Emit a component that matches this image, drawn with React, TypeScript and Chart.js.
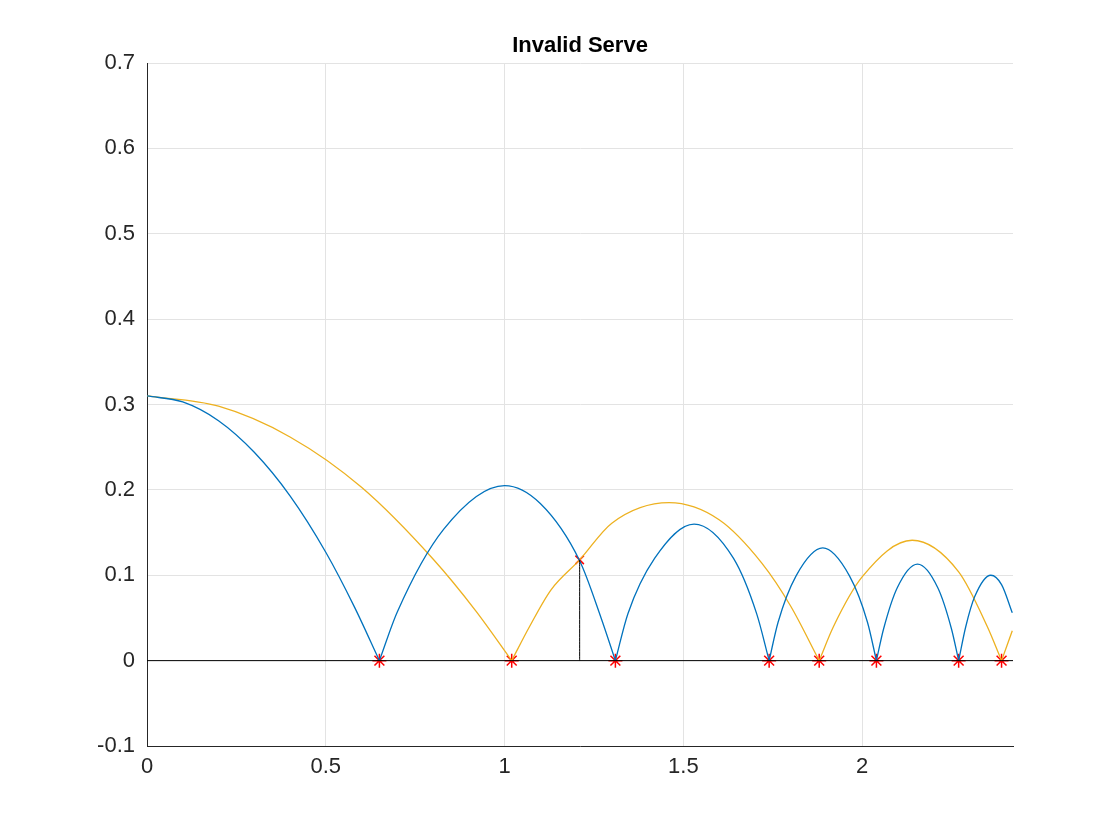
import { useEffect, useRef } from 'react';
import Chart from 'chart.js/auto';

// blue trajectory, one arc per bounce: [x, y]
const blueArcs: number[][][] = [
  [[0, 0.31], [0.1, 0.303], [0.2, 0.281], [0.3, 0.244], [0.4, 0.193], [0.5, 0.127], [0.58, 0.063], [0.65, 0]],
  [[0.65, 0], [0.7, 0.057], [0.83, 0.154], [1.0, 0.205], [1.1, 0.184], [1.21, 0.117], [1.27, 0.05], [1.31, 0]],
  [[1.31, 0], [1.345, 0.055], [1.42, 0.12], [1.53, 0.16], [1.64, 0.12], [1.705, 0.055], [1.74, 0]],
  [[1.74, 0], [1.765, 0.045], [1.815, 0.099], [1.89, 0.132], [1.965, 0.099], [2.015, 0.045], [2.04, 0]],
  [[2.04, 0], [2.06, 0.037], [2.098, 0.085], [2.155, 0.113], [2.212, 0.085], [2.25, 0.037], [2.27, 0]],
  [[2.27, 0], [2.29, 0.04], [2.315, 0.075], [2.36, 0.1], [2.39, 0.089], [2.42, 0.056]],
];
// orange trajectory
const orangeArcs: number[][][] = [
  [[0, 0.31], [0.2, 0.298], [0.4, 0.262], [0.6, 0.203], [0.8, 0.119], [0.92, 0.058], [1.02, 0]],
  [[1.02, 0], [1.07, 0.04], [1.13, 0.083], [1.21, 0.118], [1.3, 0.161], [1.46, 0.185], [1.6, 0.165], [1.72, 0.114], [1.8, 0.064], [1.88, 0]],
  [[1.88, 0], [1.92, 0.04], [2.0, 0.098], [2.14, 0.141], [2.27, 0.104], [2.35, 0.04], [2.39, 0]],
  [[2.39, 0], [2.42, 0.035]],
];
const bounceX = [0.65, 1.02, 1.31, 1.74, 1.88, 2.04, 2.27, 2.39];
const hitPoint = { x: 1.21, y: 0.118 };
const groundLine = [[0, 0], [2.422, 0]];
const xTicks = [0, 0.5, 1, 1.5, 2];

const X_MAX = 2.422;
const FONT = 'Arial, "Liberation Sans", Helvetica, sans-serif';

const toPts = (a: number[][]) => a.map(([x, y]) => ({ x, y }));

const titlePlugin = {
  id: 'mtitle',
  afterDraw(chart: any) {
    const { ctx, chartArea } = chart;
    ctx.save();
    ctx.font = 'bold 22px ' + FONT;
    ctx.fillStyle = '#000';
    ctx.textAlign = 'center';
    ctx.textBaseline = 'bottom';
    ctx.fillText('Invalid Serve', (chartArea.left + chartArea.right) / 2, chartArea.top - 6);
    ctx.restore();
  },
};

export default function App() {
  const ref = useRef<HTMLCanvasElement>(null);

  useEffect(() => {
    document.body.style.margin = '0';
    if (!ref.current) return;
    const line = (data: number[][], color: string, width = 1.3) => ({
      data: toPts(data),
      showLine: true,
      borderColor: color,
      borderWidth: width,
      pointRadius: 0,
      cubicInterpolationMode: 'monotone' as const,
    });
    const chart = new Chart(ref.current, {
      type: 'scatter',
      data: {
        datasets: [
          line(groundLine, '#000', 1),
          line([[hitPoint.x, 0], [hitPoint.x, hitPoint.y]], '#000', 1),
          ...blueArcs.map((a) => line(a, '#0072BD')),
          ...orangeArcs.map((a) => line(a, '#EDB120')),
          {
            data: bounceX.map((x) => ({ x, y: 0 })),
            pointStyle: 'star',
            pointRadius: 7,
            borderColor: '#ff0000',
            borderWidth: 1.5,
          },
          {
            data: [hitPoint],
            pointStyle: 'crossRot',
            pointRadius: 6,
            borderColor: '#ff0000',
            borderWidth: 1.5,
          },
        ] as any,
      },
      options: {
        animation: false,
        responsive: false,
        layout: { padding: { left: 0, right: 107, top: 63, bottom: 54 } },
        plugins: { legend: { display: false }, tooltip: { enabled: false } },
        scales: {
          x: {
            type: 'linear',
            min: 0,
            max: X_MAX,
            afterFit: (s: any) => { s.height = 40; },
            afterBuildTicks: (s: any) => { s.ticks = xTicks.map((v) => ({ value: v })); },
            ticks: {
              color: '#262626',
              font: { size: 22, family: FONT },
              padding: 8,
              callback: (v: any) => String(Number(Number(v).toFixed(1))),
            },
            grid: { color: '#e3e3e3', drawTicks: false },
            border: { color: '#262626' },
          },
          y: {
            min: -0.1,
            max: 0.7,
            afterFit: (s: any) => { s.width = 147; },
            ticks: {
              stepSize: 0.1,
              color: '#262626',
              font: { size: 22, family: FONT },
              padding: 12,
              callback: (v: any) => String(Number(Number(v).toFixed(1))),
            },
            grid: { color: '#e3e3e3', drawTicks: false },
            border: { color: '#262626' },
          },
        },
      },
      plugins: [titlePlugin],
    });
    return () => chart.destroy();
  }, []);

  return <canvas ref={ref} width={1120} height={840} style={{ display: 'block', background: '#fff' }} />;
}
